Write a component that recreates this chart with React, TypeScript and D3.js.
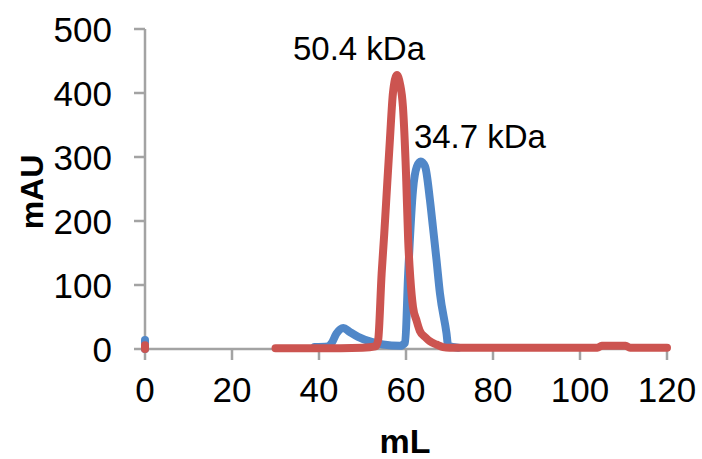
import React from "react";
import * as d3 from "d3";

const xTicks = [0, 20, 40, 60, 80, 100, 120];
const yTicks = [0, 100, 200, 300, 400, 500];

const redX = [30, 40, 50, 53, 53.6, 54.4, 55, 55.7, 56.3, 57, 57.9, 58.6, 59.3, 60, 60.5, 61, 61.6, 62.4, 63.2, 64.5, 65.5, 67, 68.5, 70, 80, 90, 100, 104, 105, 110.5, 111.5, 120];
const redY = [1, 1, 2, 4, 14, 118, 180, 260, 327, 400, 428, 415, 378, 275, 170, 110, 66, 45, 28, 18, 12, 7, 3, 2, 2, 2, 2, 2, 5, 5, 2, 2];

const blueX = [39, 42, 42.9, 44, 45.6, 47, 49, 52.1, 54.7, 58.6, 59.8, 60.5, 61.6, 62.5, 63.4, 64.4, 65.5, 66.2, 67, 67.8, 69.3, 69.7, 72];
const blueY = [3, 4, 9, 24, 33, 27, 19, 11, 7, 5, 10, 118, 248, 285, 293, 285, 233, 190, 140, 87, 25, 5, 2];

const blueStartX = [0, 0];
const blueStartY = [14, 0];
const redStartX = [0, 0];
const redStartY = [6, 0];

const annotations = [
  { label: "50.4 kDa", x: 49.2, y: 452 },
  { label: "34.7 kDa", x: 77, y: 314 },
];

const W = 702;
const H = 459;
const xS = d3.scaleLinear().domain([0, 120]).range([145, 667]);
const yS = d3.scaleLinear().domain([0, 500]).range([349, 29]);

const BLUE = "#5087C8";
const RED = "#CC5450";
const AXIS = "#A3A3A3";
const FONT = "'Liberation Sans', Arial, sans-serif";

function pathOf(xs: number[], ys: number[]) {
  const pts = xs.map((x, i) => [x, ys[i]] as [number, number]);
  return d3
    .line<[number, number]>()
    .x((d) => xS(d[0]))
    .y((d) => yS(d[1]))
    .curve(d3.curveMonotoneX)(pts) as string;
}

export default function App() {
  return (
    <svg width={W} height={H} style={{ position: "absolute", left: 0, top: 0, background: "#fff" }} fontFamily={FONT}>
      <rect x={0} y={0} width={W} height={H} fill="#fff" />
      {/* axes */}
      <line x1={xS(0)} x2={xS(0)} y1={yS(0)} y2={yS(500)} stroke={AXIS} strokeWidth={2.5} />
      <line x1={xS(0)} x2={xS(120)} y1={yS(0)} y2={yS(0)} stroke={AXIS} strokeWidth={2.5} />
      {yTicks.map((t) => (
        <g key={"y" + t}>
          <line x1={xS(0) - 11} x2={xS(0)} y1={yS(t)} y2={yS(t)} stroke={AXIS} strokeWidth={2.5} />
          <text x={112} y={yS(t) + 13} textAnchor="end" fontSize={35} fill="#000">
            {t}
          </text>
        </g>
      ))}
      {xTicks.map((t) => (
        <g key={"x" + t}>
          <line x1={xS(t)} x2={xS(t)} y1={yS(0)} y2={yS(0) + 11} stroke={AXIS} strokeWidth={2.5} />
          <text x={xS(t)} y={402} textAnchor="middle" fontSize={35} fill="#000">
            {t}
          </text>
        </g>
      ))}
      {/* axis titles */}
      <text
        transform="translate(43,192) rotate(-90)"
        textAnchor="middle"
        fontSize={32}
        fontWeight="bold"
        fill="#000"
      >
        mAU
      </text>
      <text x={405} y={453} textAnchor="middle" fontSize={34} fontWeight="bold" fill="#000">
        mL
      </text>
      {/* series */}
      <g fill="none" strokeWidth={8} strokeLinejoin="round" strokeLinecap="round">
        <path d={pathOf(blueStartX, blueStartY)} stroke={BLUE} />
        <path d={pathOf(redStartX, redStartY)} stroke={RED} />
        <path d={pathOf(blueX, blueY)} stroke={BLUE} />
        <path d={pathOf(redX, redY)} stroke={RED} />
      </g>
      {/* annotations */}
      {annotations.map((a) => (
        <text key={a.label} x={xS(a.x)} y={yS(a.y)} textAnchor="middle" fontSize={33} fill="#000">
          {a.label}
        </text>
      ))}
    </svg>
  );
}
